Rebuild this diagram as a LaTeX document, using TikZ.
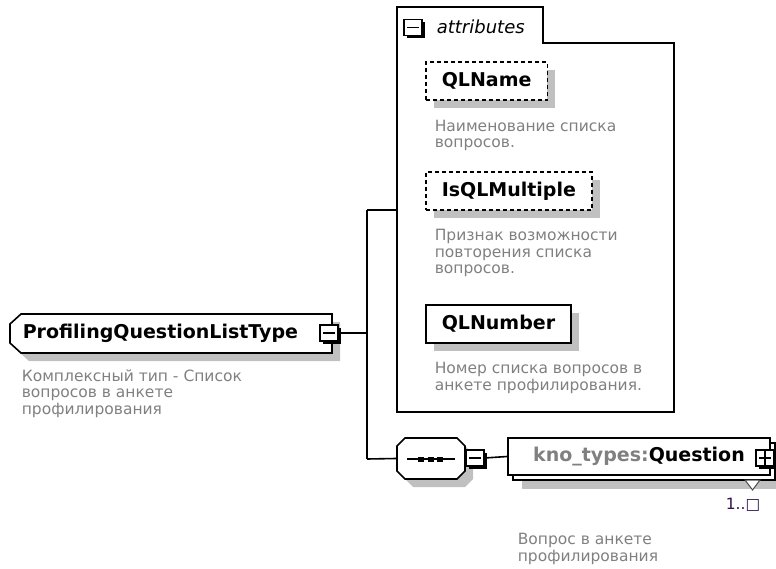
\documentclass[tikz,border=0pt]{standalone}
\usepackage{fontspec}
\setmainfont{DejaVu Sans}
\usepackage{tikz}
\usetikzlibrary{calc}
\usetikzlibrary{shadows}
\usepackage{xcolor}
\definecolor{shgray}{RGB}{192,192,192}
\definecolor{dscgray}{RGB}{128,128,128}
\definecolor{occcol}{RGB}{48,16,80}
\newcommand{\lblfont}{\fontsize{19}{22}\selectfont\bfseries}
\newcommand{\dscfont}{\fontsize{15.5}{16.5}\selectfont}

\begin{document}
\begin{tikzpicture}[x=1pt, y=-1pt, line width=1.6pt,
  elbox/.style={draw, fill=white, inner xsep=16pt, inner ysep=0pt, minimum height=38pt, font=\lblfont,
    drop shadow={shadow xshift=8pt, shadow yshift=-8pt, opacity=1, fill=shgray}},
  pmbox/.style={draw, fill=white, minimum width=18pt, minimum height=16pt, inner sep=0pt, line width=1.1pt,
    drop shadow={shadow xshift=2.5pt, shadow yshift=-2.5pt, opacity=1, fill=black},
    path picture={\draw[line width=1.4pt] ($(path picture bounding box.west)+(3pt,0)$) -- ($(path picture bounding box.east)+(-3pt,0)$);}},
  plusbox/.style={pmbox,
    path picture={\draw[line width=1.4pt] ($(path picture bounding box.west)+(3pt,0)$) -- ($(path picture bounding box.east)+(-3pt,0)$)
      ($(path picture bounding box.north)+(0,3pt)$) -- ($(path picture bounding box.south)+(0,-3pt)$);}},
  dsc/.style={font=\dscfont, text=dscgray, align=left, anchor=base west, inner sep=0pt}]

\useasboundingbox (0,0) rectangle (776,569);

\coordinate (fork) at (367,333);
\coordinate (forkup) at (367,210);
\coordinate (forkdn) at (367,459);
\coordinate (attrin) at (397,210);

\fill[shgray] (29,322) -- (340,322) -- (340,361) -- (29,361) -- (18,351) -- (18,332) -- cycle;
\draw[fill=white] (21,314) -- (332,314) -- (332,353) -- (21,353) -- (10,343) -- (10,324) -- cycle;
\node[font=\lblfont, anchor=west, inner sep=0pt] (root) at (22,333.5) {ProfilingQuestionListType};
\node[pmbox] (rootpm) at (329,333) {};
\node[dsc] (rootdsc) at (21,414) {Комплексный тип - Список\\вопросов в анкете\\профилирования};

\draw (rootpm.east) -- (fork);
\draw (forkup) -- (forkdn);
\draw (forkup) -- (attrin);

\draw (397,412) -- (397,7) -- (543,7) -- (543,43) -- (674,43) -- (674,412) -- cycle;
\node[pmbox] (attrpm) at (413,27.5) {};
\node[font=\fontsize{18}{20}\selectfont\itshape, anchor=west, inner sep=0pt] (attr) at (436,27) {attributes};

\node[elbox, dashed, dash pattern=on 4pt off 3pt, anchor=west] (qlname) at (425,81) {QLName};
\node[dsc] (qlnamedsc) at (434,148) {Наименование списка\\вопросов.};
\node[elbox, dashed, dash pattern=on 4pt off 3pt, anchor=west] (qlmult) at (425,191) {IsQLMultiple};
\node[dsc] (qlmultdsc) at (434,274) {Признак возможности\\повторения списка\\вопросов.};
\node[elbox, anchor=west] (qlnum) at (425,324) {QLNumber};
\node[dsc] (qlnumdsc) at (434,390) {Номер списка вопросов в\\анкете профилирования.};

\fill[shgray] (413,446) -- (465,446) -- (473,454) -- (473,479) -- (465,487) -- (413,487) -- (405,479) -- (405,454) -- cycle;
\draw[fill=white] (405,438) -- (457,438) -- (465,446) -- (465,471) -- (457,479) -- (405,479) -- (397,471) -- (397,446) -- cycle;
\node[minimum width=68pt, minimum height=41pt, inner sep=0pt] (seq) at (431,458.5) {};
\draw[line width=1.4pt] (407,459) -- (455,459);
\fill (418,456.5) rectangle (424,461.5);
\fill (427.5,456.5) rectangle (433.5,461.5);
\fill (437,456.5) rectangle (443,461.5);
\node[pmbox] (seqpm) at (475,458) {};

\draw (forkdn) -- (seq.west);

\fill[shgray] (522,452) rectangle (784,489);
\draw[fill=white] (513,443) rectangle (775,480);
\node[draw, fill=white, minimum width=262pt, minimum height=37pt, inner sep=0pt, font=\lblfont] (question) at (639,456.5) {\textcolor{dscgray}{kno\_types:}Question};
\node[plusbox] (questpm) at (765,458) {};
\draw[fill=white, line width=1pt, draw=black!70] (745,480) -- (760,480) -- (752.5,490) -- cycle;
\node[font=\dscfont, text=occcol, anchor=base east, inner sep=0pt] (occ) at (761,509) {1..□};
\node[dsc] (questdsc) at (517,561) {Вопрос в анкете\\профилирования};

\draw (seqpm.east) -- (question.west);

\end{tikzpicture}
\end{document}
